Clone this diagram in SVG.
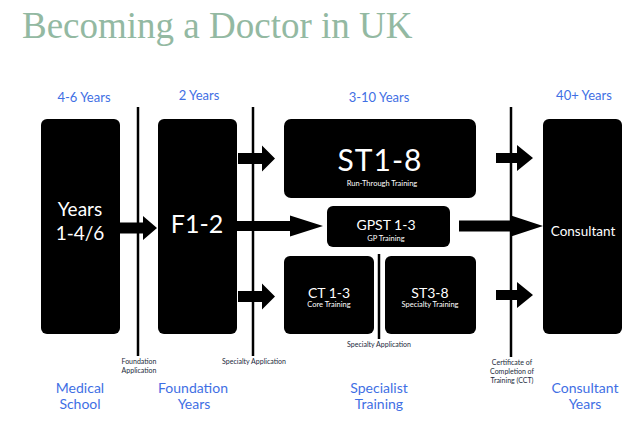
<svg xmlns="http://www.w3.org/2000/svg" width="640" height="426" viewBox="0 0 640 426">
<style>
.box{fill:#000}
.wt{fill:#fff;font-family:Lato,"Open Sans",sans-serif;text-anchor:middle}
.hd{fill:#3f6fe4;font-family:Lato,"Open Sans",sans-serif;font-size:13px;text-anchor:middle}
.bl{fill:#3f6fe4;font-family:Lato,"Open Sans",sans-serif;font-size:14px;text-anchor:middle}
.sm{fill:#222a3a;font-family:Lato,"Open Sans",sans-serif;font-size:7px;text-anchor:middle}
.div{stroke:#000;stroke-width:2.5}
.arr{fill:#000}
</style>
<rect width="640" height="426" fill="#fff"/>
<text x="22" y="38" font-family="'Liberation Serif','Times New Roman',serif" font-size="37" fill="#93b9a2">Becoming a Doctor in UK</text>

<g id="headers">
<text class="hd" x="84" y="102">4-6 Years</text>
<text class="hd" x="199" y="100">2 Years</text>
<text class="hd" x="379" y="102">3-10 Years</text>
<text class="hd" x="584" y="100">40+ Years</text>
</g>

<g id="dividers">
<line class="div" x1="138" y1="107" x2="138" y2="356"/>
<line class="div" x1="253" y1="107" x2="253" y2="356"/>
<line class="div" x1="511" y1="107" x2="511" y2="357"/>
<line class="div" x1="379" y1="254" x2="379" y2="339"/>
<text class="sm" x="139" y="364">Foundation</text>
<text class="sm" x="139" y="373">Application</text>
<text class="sm" x="254" y="364">Specialty Application</text>
<text class="sm" x="379" y="347" fill="#2a3370">Specialty Application</text>
<text class="sm" x="512" y="365">Certificate of</text>
<text class="sm" x="512" y="374">Completion of</text>
<text class="sm" x="512" y="383">Training (CCT)</text>
</g>

<g id="node-medical">
<rect class="box" x="41" y="119" width="79" height="215" rx="6"/>
<text class="wt" x="80" y="216" font-size="19">Years</text>
<text class="wt" x="80" y="240" font-size="19">1-4/6</text>
</g>
<g id="node-foundation">
<rect class="box" x="158" y="119" width="79" height="215" rx="6"/>
<text class="wt" x="197" y="233" font-size="25">F1-2</text>
</g>
<g id="node-st18">
<rect class="box" x="284" y="119" width="192" height="79" rx="7"/>
<text class="wt" x="380" y="171" font-size="30" letter-spacing="1">ST1-8</text>
<text class="wt" x="382" y="186" font-size="7.5">Run-Through Training</text>
</g>
<g id="node-gpst">
<rect class="box" x="327" y="206" width="123" height="41" rx="6"/>
<text class="wt" x="386" y="230" font-size="14">GPST 1-3</text>
<text class="wt" x="386" y="241" font-size="7.5">GP Training</text>
</g>
<g id="node-ct">
<rect class="box" x="284" y="256" width="90" height="78" rx="6"/>
<text class="wt" x="329" y="298" font-size="14">CT 1-3</text>
<text class="wt" x="329" y="307" font-size="7.5">Core Training</text>
</g>
<g id="node-st38">
<rect class="box" x="385" y="256" width="91" height="78" rx="6"/>
<text class="wt" x="430" y="298" font-size="14">ST3-8</text>
<text class="wt" x="430" y="307" font-size="7.5">Specialty Training</text>
</g>
<g id="node-consultant">
<rect class="box" x="543" y="119" width="79" height="215" rx="6"/>
<text class="wt" x="583" y="236" font-size="13.5">Consultant</text>
</g>

<g id="connectors">
<polygon class="arr" points="120,222.5 143,222.5 143,216 157,228 143,240 143,233.5 120,233.5"/>
<polygon class="arr" points="238,153 262,153 262,145.5 275,158.5 262,171.5 262,164 238,164"/>
<polygon class="arr" points="237,221 290,221 290,215.5 323,226 290,236.5 290,231 237,231"/>
<polygon class="arr" points="238,291 262,291 262,283.5 275,296.5 262,309.5 262,302 238,302"/>
<polygon class="arr" points="496,153 517,153 517,145 533,158 517,171 517,163 496,163"/>
<polygon class="arr" points="459,220.5 511,220.5 511,215.5 543,226 511,236.5 511,231.5 459,231.5"/>
<polygon class="arr" points="496,290 517,290 517,282 533,295 517,308 517,300 496,300"/>
</g>

<g id="footer">
<text class="bl" x="80" y="393">Medical</text>
<text class="bl" x="80" y="409">School</text>
<text class="bl" x="193" y="393">Foundation</text>
<text class="bl" x="194" y="409">Years</text>
<text class="bl" x="379" y="393">Specialist</text>
<text class="bl" x="379" y="409">Training</text>
<text class="bl" x="585" y="393">Consultant</text>
<text class="bl" x="585" y="409">Years</text>
</g>
</svg>
